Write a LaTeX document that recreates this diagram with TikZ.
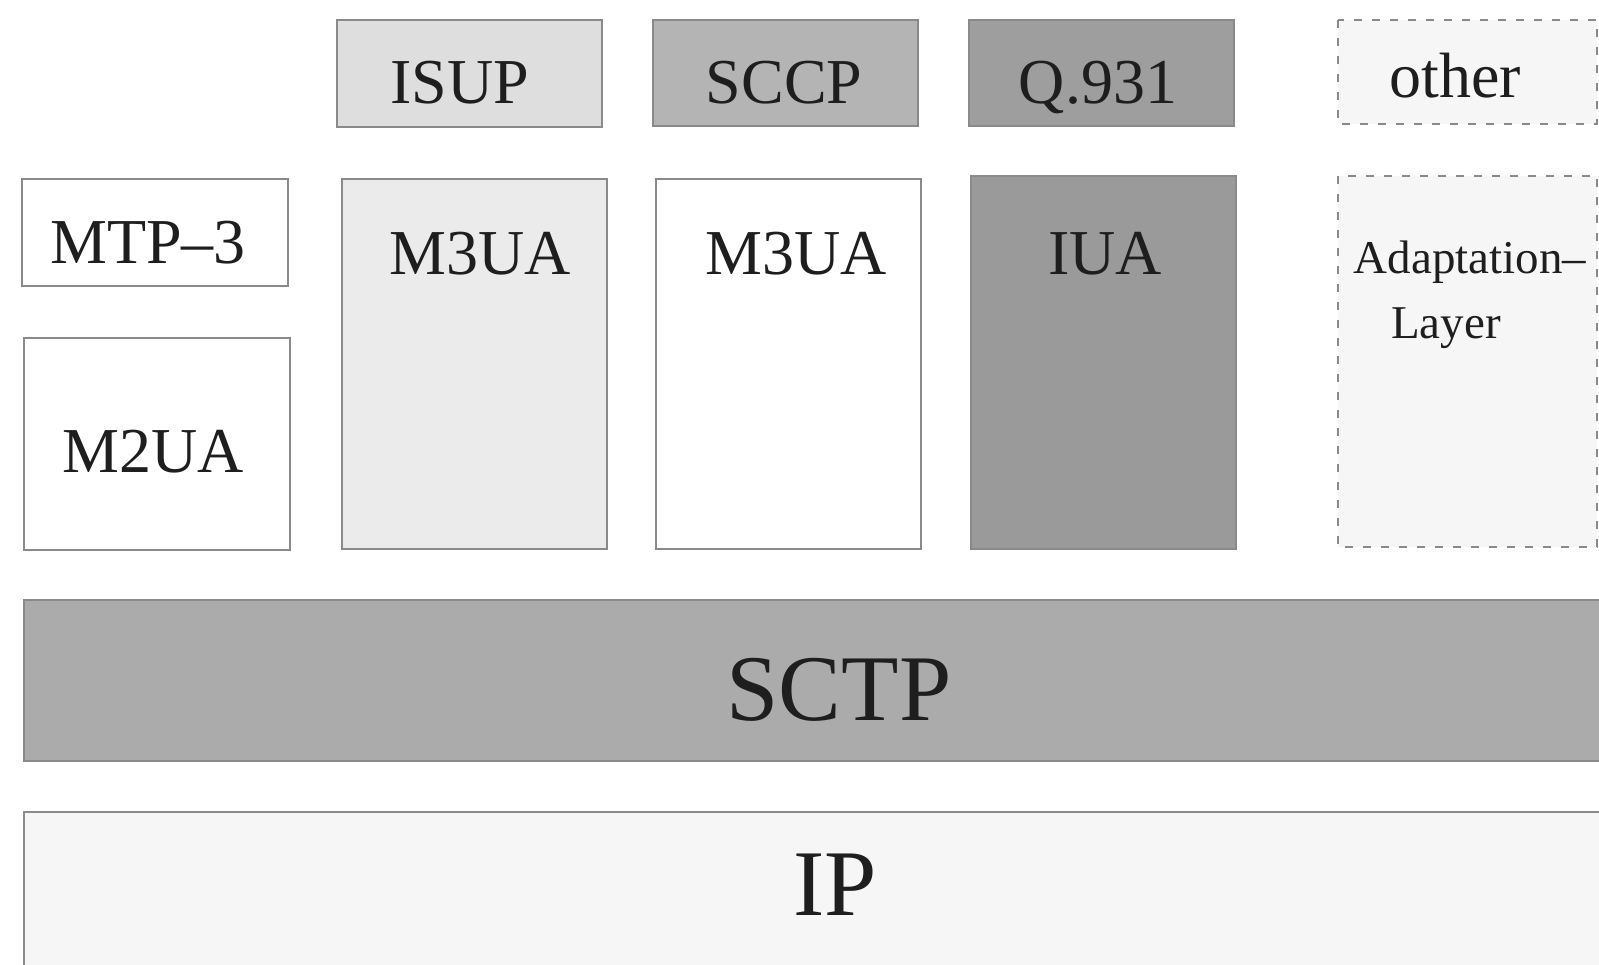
\documentclass[tikz,border=0pt]{standalone}
\usepackage{fontspec}
\setmainfont{Liberation Serif}
\definecolor{fisup}{HTML}{DEDEDE}
\definecolor{fsccp}{HTML}{B4B4B4}
\definecolor{fq}{HTML}{9E9E9E}
\definecolor{fiua}{HTML}{9A9A9A}
\definecolor{fsctp}{HTML}{ABABAB}
\definecolor{fm3ua}{HTML}{EBEBEB}
\definecolor{flight}{HTML}{F6F6F6}
\definecolor{edge}{HTML}{8A8A8A}
\definecolor{ink}{HTML}{1E1E1E}
\tikzset{
  layerbox/.style={draw=edge, line width=1.2pt},
  dashbox/.style={draw=edge, line width=1pt, dash pattern=on 4pt off 5pt},
  lbl/.style={text=ink, inner sep=0pt, anchor=base},
  small/.style={lbl, font=\fontsize{32}{36}\selectfont},
  big/.style={lbl, font=\fontsize{47}{52}\selectfont},
  tiny/.style={lbl, font=\fontsize{23.5}{28}\selectfont}
}
\begin{document}
\begin{tikzpicture}[x=0.5pt,y=-0.5pt]
\useasboundingbox (0,0) rectangle (1599,964);
\clip (0,0) rectangle (1599,964);
\fill[white] (0,0) rectangle (1599,964);
% top row
\draw[layerbox, fill=fisup] (337,20) rectangle (602,127);
\draw[layerbox, fill=fsccp] (653,20) rectangle (918,126);
\draw[layerbox, fill=fq] (969,20) rectangle (1234,126);
\draw[dashbox, fill=flight] (1338,20) rectangle (1597,124);
% middle row
\draw[layerbox, fill=white] (22,179) rectangle (288,286);
\draw[layerbox, fill=white] (24,338) rectangle (290,550);
\draw[layerbox, fill=fm3ua] (342,179) rectangle (607,549);
\draw[layerbox, fill=white] (656,179) rectangle (921,549);
\draw[layerbox, fill=fiua] (971,176) rectangle (1236,549);
\draw[dashbox, fill=flight] (1338,176) rectangle (1597,547);
% bottom
\draw[layerbox, fill=fsctp] (24,600) rectangle (1610,761);
\draw[layerbox, fill=flight] (24,812) rectangle (1610,975);
% labels
\node[small] (isup) at (460,103) {ISUP};
\node[small] (sccp) at (784,103) {SCCP};
\node[small] (q931) at (1098,103) {Q.931};
\node[small] (other) at (1455,97) {other};
\node[small] (mtp) at (148,263) {MTP--3};
\node[small] (m2ua) at (153,472) {M2UA};
\node[small] (m3uaa) at (480,274) {M3UA};
\node[small] (m3uab) at (796,274) {M3UA};
\node[small] (iua) at (1105,274) {IUA};
\node[tiny] (adapt) at (1470,273) {Adaptation--};
\node[tiny] (layer) at (1446,338) {Layer};
\node[big] (sctp) at (839,720) {SCTP};
\node[big] (ip) at (835,915) {IP};
\end{tikzpicture}
\end{document}
